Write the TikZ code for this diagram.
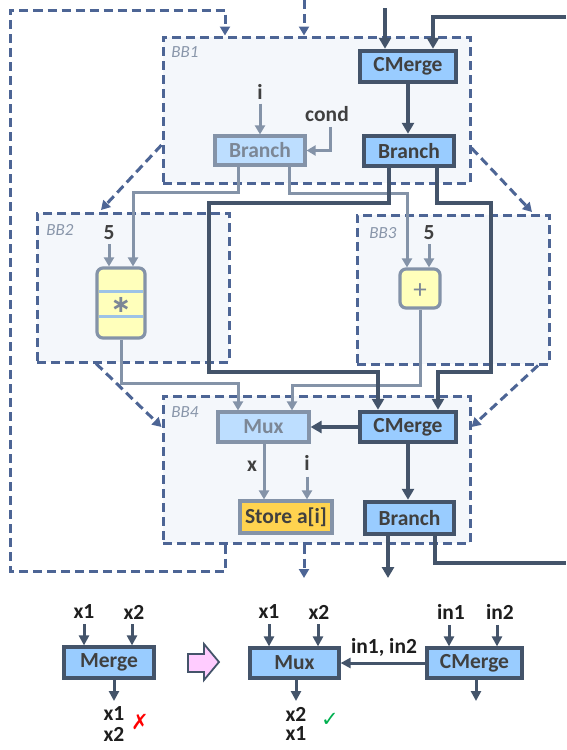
\documentclass[tikz,border=0pt]{standalone}
\usepackage{fontspec}
\setmainfont{Carlito}
\newfontfamily\symfont{DejaVu Sans}
\usetikzlibrary{arrows.meta,calc}
\definecolor{dashc}{HTML}{4D6595}
\definecolor{bbfill}{HTML}{F4F7FB}
\definecolor{darkc}{HTML}{44546A}
\definecolor{darkfill}{HTML}{99CCFF}
\definecolor{lightfill}{HTML}{BDDEFF}
\definecolor{grayc}{HTML}{8493A8}
\definecolor{graytxt}{HTML}{7C8796}
\definecolor{yelfill}{HTML}{FFFFBB}
\definecolor{storefill}{HTML}{FFD34F}
\definecolor{txtc}{HTML}{404040}
\definecolor{blk}{HTML}{1E1E1E}
\definecolor{bbtxt}{HTML}{8996AA}
\definecolor{sepc}{HTML}{9DC3E6}
\definecolor{pinkfill}{HTML}{FFCCFF}
\definecolor{okgreen}{HTML}{00B050}
\newcommand\fsz{\fontsize{21.5}{23}\selectfont}
\tikzset{
  bb/.style={draw=dashc, fill=bbfill, line width=3pt, dash pattern=on 9pt off 5pt, inner sep=0pt},
  dkbox/.style={draw=darkc, fill=darkfill, line width=4.5pt, inner sep=0pt, text=txtc, font=\fsz\bfseries},
  ltbox/.style={draw=grayc, fill=lightfill, line width=3.2pt, inner sep=0pt, text=graytxt, font=\fsz\bfseries},
  yelbox/.style={draw=grayc, fill=yelfill, line width=3.2pt, rounded corners=6pt, inner sep=0pt},
  stbox/.style={draw=grayc, fill=storefill, line width=3.2pt, inner sep=0pt, text=txtc, font=\fsz\bfseries},
  lowbox/.style={draw=darkc, fill=darkfill, line width=3.2pt, inner sep=0pt, text=txtc, font=\fsz\bfseries},
  lbl/.style={inner sep=0pt, text=txtc, font=\fsz\bfseries},
  blbl/.style={inner sep=0pt, text=blk, font=\fsz\bfseries},
  bblbl/.style={inner sep=0pt, text=bbtxt, font=\fontsize{17}{18}\selectfont\itshape},
  opl/.style={inner sep=0pt, text=graytxt},
  dline/.style={draw=dashc, line width=3pt, dash pattern=on 9pt off 5pt},
  darr/.style={dline, -{Triangle[width=10pt,length=9pt]}},
  gline/.style={draw=grayc, line width=3pt},
  garr/.style={gline, -{Triangle[width=10pt,length=9pt]}},
  tline/.style={draw=darkc, line width=4.2pt},
  tarr/.style={tline, -{Triangle[width=12pt,length=11pt]}},
  barr/.style={draw=darkc, line width=3pt, -{Triangle[width=10pt,length=10pt]}},
  sepline/.style={draw=sepc, line width=3pt},
}
\begin{document}
\begin{tikzpicture}[x=1pt,y=-1pt]
\useasboundingbox (0,0) rectangle (566,750);
\fill[white] (0,0) rectangle (566,750);

% basic blocks
\node[bb, minimum width=307pt, minimum height=146pt] (bb1) at (316.5,110) {};
\node[bb, minimum width=192pt, minimum height=149pt] (bb2) at (133,287.5) {};
\node[bb, minimum width=192pt, minimum height=149pt] (bb3) at (453,289.5) {};
\node[bb, minimum width=307pt, minimum height=147pt] (bb4) at (316.5,469.5) {};
\node[bblbl] (bb1l) at (185,52) {BB1};
\node[bblbl] (bb2l) at (60,230) {BB2};
\node[bblbl] (bb3l) at (383,233) {BB3};
\node[bblbl] (bb4l) at (185,412) {BB4};

% boxes
\node[dkbox, minimum width=96pt, minimum height=31pt] (cm1) at (408,66.5) {CMerge};
\node[dkbox, minimum width=90pt, minimum height=30pt] (br1) at (409,151) {Branch};
\node[ltbox, minimum width=90pt, minimum height=29pt] (lbr) at (260,150.5) {Branch};
\node[yelbox, minimum width=48pt, minimum height=70pt] (mul) at (121,303) {};
\draw[sepline] (98.8,291) -- (143.2,291);
\draw[sepline] (98.8,316) -- (143.2,316);
\node[opl, anchor=base, font=\symfont\bfseries\fontsize{24}{24}\selectfont] (star) at (121,312) {∗};
\node[yelbox, minimum width=40pt, minimum height=39pt] (plus) at (420,288.5) {};
\node[opl, anchor=base, font=\fontsize{27}{27}\selectfont] (plusop) at (420,298) {+};
\node[ltbox, minimum width=91pt, minimum height=30pt] (mux) at (263.5,427) {Mux};
\node[dkbox, minimum width=96pt, minimum height=30pt] (cm4) at (408,427) {CMerge};
\node[stbox, minimum width=92pt, minimum height=32pt] (store) at (286,517) {Store a[i]};
\node[dkbox, minimum width=89pt, minimum height=32pt] (br4) at (409.5,518) {Branch};

% labels
\node[lbl] (ilab) at (260,92) {i};
\node[lbl] (cond) at (327,114) {cond};
\node[lbl] (five1) at (109,233) {5};
\node[lbl] (five2) at (429,233) {5};
\node[lbl] (xlab) at (252,466) {x};
\node[lbl] (i2) at (307,463) {i};

% free ends
\coordinate (tin) at (385,8);
\coordinate (rin) at (566,17);
\coordinate (din) at (304,0);
\coordinate (dout) at (304,578);
\coordinate (bout) at (388,578);
\coordinate (rout) at (566,563);

% dashed control flow
\draw[darr] (225,0 |- bb4.south) -- (225,571) -- (10,571) -- (10,10) -- (225,10) -- (225,0 |- bb1.north);
\draw[darr] (din) -- (din |- bb1.north);
\draw[darr] (304,0 |- bb4.south) -- (dout);
\draw[darr] (bb1.west |- 0,145) -- (101,210);
\draw[darr] (bb1.east |- 0,148) -- (532,212);
\draw[darr] (96,0 |- bb2.south) -- (bb4.west |- 0,427);
\draw[darr] (538,0 |- bb3.south) -- (bb4.east |- 0,427);

% gray data
\draw[garr] (238,0 |- lbr.south) -- (238,192) -- (133,192) -- (133,0 |- mul.north);
\draw[garr] (289,0 |- lbr.south) -- (289,193) -- (407,193) -- (407,0 |- plus.north);
\draw[garr] (mul.south) -- (121,383) -- (238,383) -- (238,0 |- mux.north);
\draw[garr] (plus.south) -- (420,385) -- (292,385) -- (292,0 |- mux.north);
\draw[garr] ([yshift=-4pt]ilab.south) -- (ilab.south |- lbr.north);
\draw[garr] ([xshift=3pt,yshift=-5pt]cond.south) |- (lbr.east);
\draw[garr] ([yshift=-4pt]five1.south) -- (five1.south |- mul.north);
\draw[garr] ([yshift=-4pt]five2.south) -- (five2.south |- plus.north);
\draw[garr] (264,0 |- mux.south) -- (264,0 |- store.north);
\draw[garr] ([yshift=-6pt]i2.south) -- (i2.south |- store.north);

% thick control
\draw[tarr] (tin) -- (tin |- cm1.north);
\draw[tarr] (rin) -- (433,17) -- (433,0 |- cm1.north);
\draw[tarr] (cm1.south) -- (cm1.south |- br1.north);
\draw[tarr] (389,0 |- br1.south) -- (389,203) -- (209,203) -- (209,372) -- (378,372) -- (378,0 |- cm4.north);
\draw[tarr] (437,0 |- br1.south) -- (437,203) -- (491,203) -- (491,372) -- (438,372) -- (438,0 |- cm4.north);
\draw[tarr] (cm4.west) -- (mux.east);
\draw[tarr] (cm4.south) -- (cm4.south |- br4.north);
\draw[tarr] (388,0 |- br4.south) -- (bout);
\draw[tline] (435,0 |- br4.south) -- (435,563) -- (rout);

% bottom legend
\node[lowbox, minimum width=90pt, minimum height=31pt] (merge) at (109,662.5) {Merge};
\node[lowbox, minimum width=89pt, minimum height=30pt] (bmux) at (294.5,663) {Mux};
\node[lowbox, minimum width=95pt, minimum height=30pt] (bcm) at (474.5,663) {CMerge};

\node[blbl] (mx1) at (84,612) {x1};
\node[blbl] (mx2) at (134,612) {x2};
\node[blbl] (ux1) at (269,612) {x1};
\node[blbl] (ux2) at (319,612) {x2};
\node[blbl] (cin1) at (451,612) {in1};
\node[blbl] (cin2) at (500,612) {in2};
\node[blbl] (inin) at (384,647) {in1, in2};

\node[blbl] (mo1) at (114,714) {x1};
\node[blbl] (mo2) at (114,734) {x2};
\node[inner sep=0pt, text=red, font=\symfont\fontsize{21}{22}\selectfont] (bad) at (140,722) {✗};
\node[blbl] (uo1) at (296,714) {x2};
\node[blbl] (uo2) at (296,734) {x1};
\node[inner sep=0pt, text=okgreen, font=\symfont\fontsize{21}{22}\selectfont] (good) at (330,720) {✓};

\coordinate (mout) at (114,701);
\coordinate (uout) at (296,701);
\coordinate (cout) at (476,701);

\draw[barr] ([yshift=-5pt]mx1.south) -- (mx1.south |- merge.north);
\draw[barr] ([yshift=-5pt,xshift=-2pt]mx2.south) -- ([xshift=-2pt]mx2.south |- merge.north);
\draw[barr] (mout |- merge.south) -- (mout);
\draw[barr] ([yshift=-5pt]ux1.south) -- (ux1.south |- bmux.north);
\draw[barr] ([yshift=-5pt,xshift=-1pt]ux2.south) -- ([xshift=-1pt]ux2.south |- bmux.north);
\draw[barr] (uout |- bmux.south) -- (uout);
\draw[barr] ([yshift=-5pt,xshift=-2pt]cin1.south) -- ([xshift=-2pt]cin1.south |- bcm.north);
\draw[barr] ([yshift=-5pt,xshift=-3pt]cin2.south) -- ([xshift=-3pt]cin2.south |- bcm.north);
\draw[barr] (cout |- bcm.south) -- (cout);
\draw[barr] (bcm.west) -- (bmux.east);

% transformation arrow
\draw[draw=darkc, fill=pinkfill, line width=1.8pt, line join=miter]
  (188,654) -- (204,654) -- (204,644) -- (219,662) -- (204,680) -- (204,672) -- (188,672) -- cycle;
\end{tikzpicture}
\end{document}
